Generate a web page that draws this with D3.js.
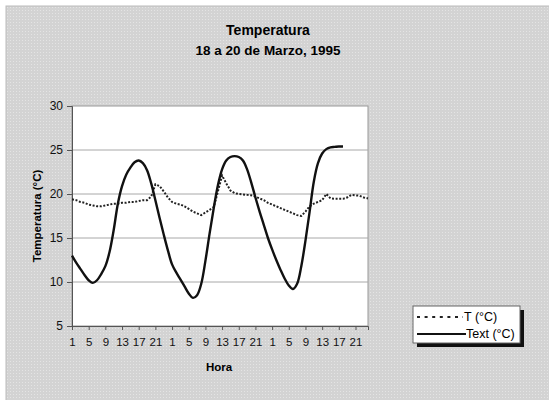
<!DOCTYPE html>
<meta charset="utf-8">
<style>
body { margin: 0; background: #fff; }
svg { display: block; font-family: 'Liberation Sans', Arial, sans-serif; }
.grid line { stroke: #a8a8a8; stroke-width: 1; }
.axis path, .axis line { stroke: #555; }
.axis text { fill: #111; }
</style>
<body>
<svg width="549" height="400"></svg>
<script src="https://d3js.org/d3.v7.min.js"></script>
<script>

// hour of day for each of the 72 readings (3 days)
var hours = d3.range(72).map(function(i) { return (i % 24) + 1; });

// T (°C) – indoor temperature, dotted series
var tInt = [
  19.4, 19.3, 19.1, 19.0, 18.8, 18.7, 18.6, 18.6, 18.7, 18.8, 18.9, 18.9,
  19.0, 19.0, 19.1, 19.1, 19.2, 19.3, 19.3, 19.7, 21.1, 20.9, 20.3, 19.6,
  19.1, 18.9, 18.8, 18.6, 18.3, 18.0, 17.8, 17.6, 17.9, 18.2, 18.5, 20.3,
  22.1, 21.2, 20.4, 20.1, 20.0, 19.95, 19.9, 19.85, 19.7, 19.5, 19.3, 19.0,
  18.8, 18.6, 18.4, 18.2, 18.0, 17.8, 17.6, 17.5, 18.0, 18.6, 18.9, 19.1,
  19.3, 20.0, 19.5, 19.45, 19.45, 19.45, 19.6, 19.9, 19.85, 19.8, 19.6, 19.5
];

// Text (°C) – outdoor temperature, solid series (ends at hour 18 of day 3)
var tExt = [
  13.0, 12.2, 11.5, 10.8, 10.2, 9.9, 10.2, 10.9, 11.8, 13.4, 15.9, 18.9,
  20.9, 22.2, 23.0, 23.6, 23.8, 23.5, 22.7, 21.2, 19.3, 17.3, 15.4, 13.6,
  12.0, 11.1, 10.3, 9.5, 8.7, 8.2, 8.5, 9.8, 12.4, 15.5, 18.4, 21.0,
  22.8, 23.8, 24.2, 24.3, 24.2, 23.8, 22.8, 21.3, 19.6, 18.0, 16.5, 15.0,
  13.7, 12.5, 11.4, 10.4, 9.6, 9.2, 9.8, 11.8, 14.7, 18.0, 21.4, 23.5,
  24.6, 25.1, 25.3, 25.35, 25.4, 25.4, null, null, null, null, null, null
];

var yTicks = [5, 10, 15, 20, 25, 30];

var svg = d3.select("svg");

// textured grey chart area
var defs = svg.append("defs");
var pat = defs.append("pattern")
    .attr("id", "stipple")
    .attr("width", 3).attr("height", 3)
    .attr("patternUnits", "userSpaceOnUse");
pat.append("rect").attr("width", 3).attr("height", 3).attr("fill", "#d3d3d3");
pat.append("rect").attr("x", 1).attr("y", 1).attr("width", 1).attr("height", 1).attr("fill", "#e4e4e4");

svg.append("rect")
    .attr("x", 6).attr("y", 6)
    .attr("width", 560).attr("height", 420)
    .attr("fill", "url(#stipple)")
    .attr("stroke", "#bcbcbc");

var x = d3.scalePoint()
    .domain(d3.range(72))
    .range([72, 368]);

var y = d3.scaleLinear()
    .domain([5, 30])
    .range([326, 106]);

// plot area
svg.append("rect")
    .attr("x", 72).attr("y", 106)
    .attr("width", 296).attr("height", 220)
    .attr("fill", "#fff")
    .attr("stroke", "#999");

svg.append("g")
    .attr("class", "grid")
  .selectAll("line")
  .data(yTicks.slice(1, 5))
  .enter().append("line")
    .attr("x1", 72).attr("x2", 368)
    .attr("y1", function(d) { return y(d); })
    .attr("y2", function(d) { return y(d); });

// axes
svg.append("g")
    .attr("class", "axis")
    .attr("transform", "translate(72,0)")
    .style("font-size", "12px")
    .call(d3.axisLeft(y).tickValues(yTicks).tickSize(5).tickPadding(4));

svg.append("g")
    .attr("class", "axis")
    .attr("transform", "translate(0,326)")
    .style("font-size", "11.5px")
    .call(d3.axisBottom(x)
        .tickValues(d3.range(0, 72, 4))
        .tickFormat(function(i) { return hours[i]; })
        .tickSize(4).tickPadding(8));

svg.selectAll(".axis text").attr("font-size", null).attr("font-family", null);

// series
var smooth = d3.line()
    .defined(function(d) { return d != null; })
    .x(function(d, i) { return x(i); })
    .y(function(d) { return y(d); })
    .curve(d3.curveCatmullRom.alpha(0.5));

var straight = d3.line()
    .x(function(d, i) { return x(i); })
    .y(function(d) { return y(d); });

svg.append("path")
    .datum(tInt)
    .attr("d", straight)
    .attr("fill", "none")
    .attr("stroke", "#222")
    .attr("stroke-width", 2)
    .attr("stroke-dasharray", "2,1.6");

svg.append("path")
    .datum(tExt)
    .attr("d", smooth)
    .attr("fill", "none")
    .attr("stroke", "#111")
    .attr("stroke-width", 2.4);

// titles
svg.append("text")
    .attr("x", 268).attr("y", 35)
    .attr("text-anchor", "middle")
    .style("font-size", "14px").style("font-weight", "bold")
    .text("Temperatura");

svg.append("text")
    .attr("x", 268).attr("y", 55)
    .attr("text-anchor", "middle")
    .style("font-size", "13.5px").style("font-weight", "bold")
    .text("18 a 20 de Marzo, 1995");

svg.append("text")
    .attr("transform", "translate(41,216) rotate(-90)")
    .attr("text-anchor", "middle")
    .style("font-size", "11.5px").style("font-weight", "bold")
    .text("Temperatura (°C)");

svg.append("text")
    .attr("x", 219).attr("y", 371)
    .attr("text-anchor", "middle")
    .style("font-size", "11.5px").style("font-weight", "bold")
    .text("Hora");

// legend
var legend = svg.append("g");
legend.append("rect")
    .attr("x", 417).attr("y", 310)
    .attr("width", 107).attr("height", 37)
    .attr("fill", "#111");
legend.append("rect")
    .attr("x", 413).attr("y", 306)
    .attr("width", 107).attr("height", 37)
    .attr("fill", "#fff")
    .attr("stroke", "#666");

legend.append("line")
    .attr("x1", 417).attr("x2", 463)
    .attr("y1", 317).attr("y2", 317)
    .attr("stroke", "#222").attr("stroke-width", 2)
    .attr("stroke-dasharray", "3,4.6");
legend.append("text")
    .attr("x", 464).attr("y", 321)
    .style("font-size", "12.5px")
    .text("T (°C)");

legend.append("line")
    .attr("x1", 417).attr("x2", 466)
    .attr("y1", 334).attr("y2", 334)
    .attr("stroke", "#111").attr("stroke-width", 2);
legend.append("text")
    .attr("x", 466).attr("y", 338)
    .style("font-size", "12.5px")
    .text("Text (°C)");

</script>
</body>
